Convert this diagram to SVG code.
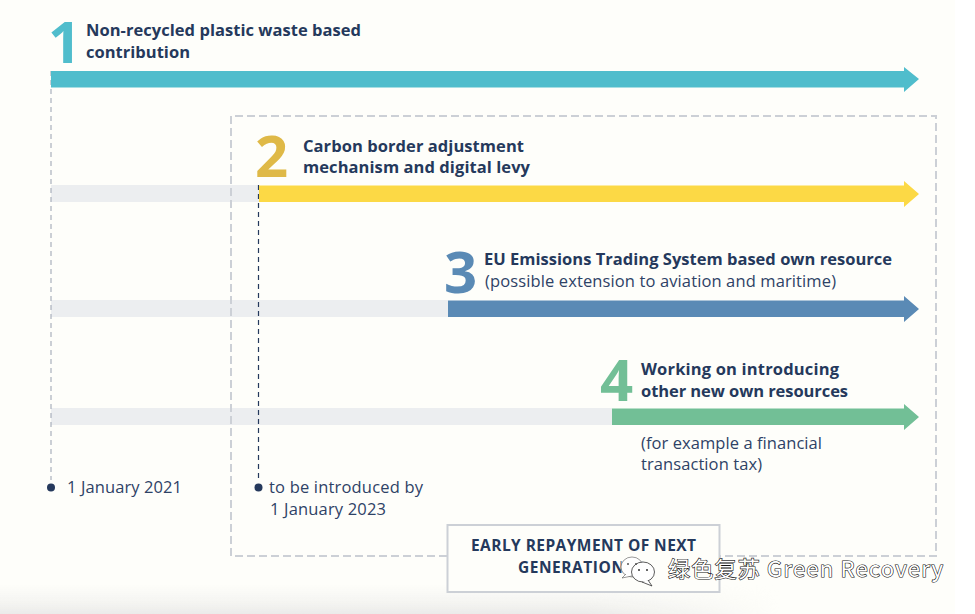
<svg xmlns="http://www.w3.org/2000/svg" width="975" height="614" viewBox="0 0 975 614">
<style>
.b{font-family:"Open Sans","Liberation Sans",sans-serif;font-weight:700;font-size:16.5px;fill:#25395c}
.r{font-family:"Open Sans","Liberation Sans",sans-serif;font-weight:400;font-size:16.5px;fill:#2e4266}
.n{font-family:"Open Sans","Liberation Sans",sans-serif;font-weight:700;font-size:58px}
.t{fill:#eceef0}
.d{fill:none;stroke:#ccd0d6;stroke-width:2;stroke-dasharray:8 4}
.g{stroke:#a9b0bc;stroke-width:1.2;stroke-dasharray:5 4;fill:none}
.w{font-family:"Noto Sans CJK SC","Liberation Sans",sans-serif;font-size:22px;fill:#fff;stroke:#111;stroke-width:1.2;paint-order:stroke}
</style>
<defs>
<linearGradient id="bot" x1="0" y1="0" x2="0" y2="1"><stop offset="0" stop-color="#f2f2f0" stop-opacity="0"/><stop offset="1" stop-color="#ebebe9"/></linearGradient>
<linearGradient id="fade" x1="0" y1="0" x2="1" y2="0"><stop offset="0" stop-color="#fff"/><stop offset=".75" stop-color="#fff"/><stop offset="1" stop-color="#000"/></linearGradient>
<mask id="m"><rect x="0" y="580" width="780" height="34" fill="url(#fade)"/></mask>
</defs>
<rect width="975" height="614" fill="#fff"/>
<rect width="955" height="614" fill="#fefefa"/>
<rect x="0" y="584" width="780" height="30" fill="url(#bot)" mask="url(#m)"/>

<g id="tracks">
<rect class="t" x="51" y="185" width="208" height="17"/>
<rect class="t" x="51" y="300" width="397" height="17"/>
<rect class="t" x="51" y="408" width="561" height="17"/>
</g>
<g id="scope"><path class="d" d="M231 556V116H936V556H720M447 556H231"/></g>

<g id="connectors">
<path class="g" d="M51 71V480"/>
<path d="M258.500 185V480" fill="none" stroke="#25395c" stroke-width="1.200" stroke-dasharray="5 4"/>
</g>

<g id="item1">
<path fill="#50bdcc" d="M51 71H904V67L919 79L904 92V87.500H51Z"/>
<text class="n" x="48" y="63" fill="#50bdcc">1</text>
<text class="b" x="86" y="36" textLength="275">Non-recycled plastic waste based</text>
<text class="b" x="86" y="58" textLength="104">contribution</text>
</g>
<g id="item2">
<path fill="#fcd945" d="M259 185.500H904V181L919 194L904 207V202H259Z"/>
<text class="n" x="255" y="177" fill="#dfb947">2</text>
<text class="b" x="303" y="152" textLength="221">Carbon border adjustment</text>
<text class="b" x="303" y="173" textLength="227">mechanism and digital levy</text>
</g>
<g id="item3">
<path fill="#5a8ab5" d="M448 300.500H904V296L919 309L904 322V317H448Z"/>
<text class="n" x="444" y="293" fill="#5a8ab5">3</text>
<text class="b" x="484" y="265" textLength="408">EU Emissions Trading System based own resource</text>
<text class="r" x="485" y="287" textLength="351">(possible extension to aviation and maritime)</text>
</g>
<g id="item4">
<path fill="#72bf96" d="M612 408.500H904V404L919 417L904 430V425H612Z"/>
<text class="n" x="600" y="401" fill="#72bf96">4</text>
<text class="b" x="641" y="375" textLength="198">Working on introducing</text>
<text class="b" x="641" y="397" textLength="207">other new own resources</text>
<text class="r" x="641" y="449" textLength="181">(for example a financial</text>
<text class="r" x="641" y="470" textLength="121">transaction tax)</text>
</g>
<g id="date1">
<circle cx="51" cy="487.500" r="4" fill="#25395c"/>
<text class="r" x="67" y="493" textLength="115">1 January 2021</text>
</g>
<g id="date2">
<circle cx="258.500" cy="487.500" r="4" fill="#25395c"/>
<text class="r" x="269" y="493" textLength="154">to be introduced by</text>
<text class="r" x="270" y="515" textLength="116">1 January 2023</text>
</g>
<g id="repayment">
<rect x="447.500" y="525" width="272" height="67" fill="#fefefa" stroke="#ccd0d6" stroke-width="2"/>
<text class="b" x="471" y="551" textLength="225" style="font-size:15.500px">EARLY REPAYMENT OF NEXT</text>
<text class="b" x="518" y="573" textLength="106" style="font-size:15.500px">GENERATION</text>
<text class="b" x="620" y="573" textLength="24" style="font-size:15.500px;fill:#e2e5ea">EU</text>
</g>
<g id="watermark">
<ellipse cx="632" cy="567" rx="11" ry="10" fill="#fff" stroke="#555" stroke-width=".6"/>
<path d="M626 574L622 578L632 576" fill="#fff" stroke="#555" stroke-width=".6"/>
<ellipse cx="643" cy="572" rx="11.500" ry="10" fill="#fff" stroke="#333" stroke-width=".8"/>
<path d="M648 580L652 586L642 582" fill="#fff" stroke="#333" stroke-width=".8"/>
<circle cx="628" cy="564" r="1" fill="#555"/><circle cx="636" cy="564" r="1" fill="#555"/>
<circle cx="639" cy="570" r="1" fill="#333"/><circle cx="647" cy="570" r="1" fill="#333"/>
<text class="w" x="668" y="577" textLength="275">绿色复苏 Green Recovery</text>
</g>
</svg>
